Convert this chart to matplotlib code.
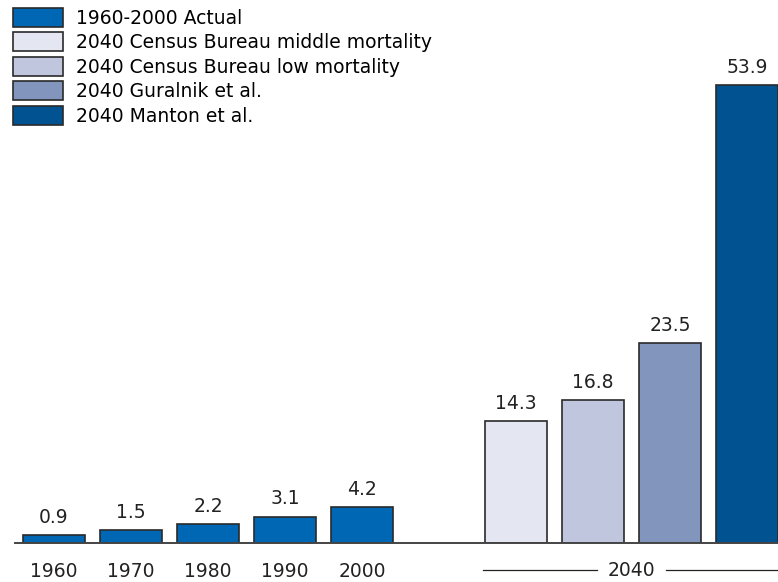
import matplotlib
matplotlib.use("Agg")
import matplotlib.pyplot as plt
from matplotlib.patches import Patch

# Data
years = ["1960", "1970", "1980", "1990", "2000"]
actual = [0.9, 1.5, 2.2, 3.1, 4.2]
proj_labels = ["2040 Census Bureau middle mortality", "2040 Census Bureau low mortality",
               "2040 Guralnik et al.", "2040 Manton et al."]
proj_values = [14.3, 16.8, 23.5, 53.9]
proj_year = "2040"

actual_color = "#0067b4"
proj_colors = ["#e4e6f2", "#c1c6df", "#8295bd", "#005290"]
edge = "#2a2a2a"
fs = 13.5

fig = plt.figure(figsize=(7.78, 5.82), dpi=100)
ax = fig.add_axes([15 / 778, 39 / 582, 1 - 15 / 778, 543 / 582])

x_act = list(range(len(years)))
x_proj = [len(years) + 1 + i for i in range(len(proj_values))]
w = 0.805

b1 = ax.bar(x_act, actual, width=w, color=actual_color, edgecolor=edge, linewidth=1.2)
b2 = ax.bar(x_proj, proj_values, width=w, color=proj_colors, edgecolor=edge, linewidth=1.2)
for b in (b1, b2):
    ax.bar_label(b, labels=[f"{v:.1f}" for v in b.datavalues], padding=6,
                 fontsize=fs, color="#222222")

ax.set_xlim(-0.506, x_proj[-1] + 0.403)
ax.set_ylim(0, 543 / 8.497)

for s in ["top", "right", "left"]:
    ax.spines[s].set_visible(False)
ax.spines["bottom"].set_color("#444444")
ax.spines["bottom"].set_linewidth(1.4)
ax.set_yticks([])
ax.set_xticks(x_act)
ax.set_xticklabels(years, fontsize=fs, color="#222222")
ax.tick_params(axis="x", length=0, pad=14)

# 2040 group label with bracket lines
mid = (x_proj[0] + x_proj[-1]) / 2
ylab = -0.05
tr = ax.get_xaxis_transform()
ax.text(mid, ylab, proj_year, transform=tr, ha="center", va="center",
        fontsize=fs, color="#222222", clip_on=False)
ax.plot([x_proj[0] - 0.43, mid - 0.45], [ylab, ylab], transform=tr,
        color="#222222", lw=0.9, clip_on=False)
ax.plot([mid + 0.45, x_proj[-1] + 0.403], [ylab, ylab], transform=tr,
        color="#222222", lw=0.9, clip_on=False)

# Legend
handles = [Patch(facecolor=actual_color, edgecolor=edge, linewidth=1.2)]
handles += [Patch(facecolor=c, edgecolor=edge, linewidth=1.2) for c in proj_colors]
labels = ["1960-2000 Actual"] + proj_labels
fig.legend(handles, labels, loc="upper left", bbox_to_anchor=(13 / 778, 1 - 8 / 582),
           frameon=False, fontsize=fs, handlelength=2.67, handleheight=1.17,
           handletextpad=0.7, labelspacing=0.25, borderpad=0, borderaxespad=0)

fig.savefig("out.png", dpi=100)
